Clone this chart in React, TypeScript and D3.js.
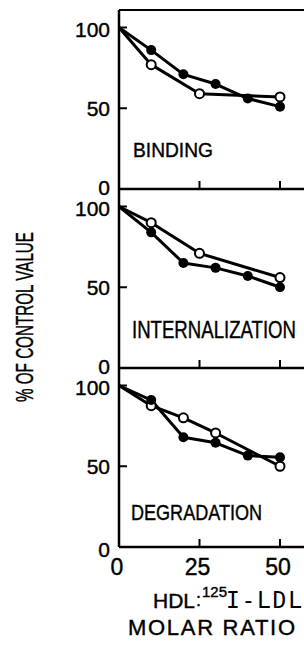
import { useEffect, useRef } from "react";
import * as d3 from "d3";

// panel labels, top to bottom
const panelNames = ["BINDING", "INTERNALIZATION", "DEGRADATION"];

// filled circles (same x for every panel)
const filledX = [0, 10, 20, 30, 40, 50];
const filledBinding = [100, 86, 71, 65, 56, 51];
const filledInternal = [100, 84, 65, 62, 57, 50];
const filledDegrad = [100, 91, 68, 64.5, 56.6, 55.5];

// open circles
const openXBinding = [0, 10, 25, 50];
const openBinding = [100, 77, 59, 57];
const openXInternal = [0, 10, 25, 50];
const openInternal = [100, 90, 71, 56];
const openXDegrad = [0, 10, 20, 30, 50];
const openDegrad = [100, 87.5, 80, 70.6, 50];

const xTicks = [0, 25, 50];
const yTicks = [0, 50, 100];

export default function App() {
  const svgRef = useRef<SVGSVGElement | null>(null);

  useEffect(() => {
    const width = 304;
    const height = 648;
    const svg = d3.select(svgRef.current);
    svg.selectAll("*").remove();
    svg.attr("width", width).attr("height", height);

    const font = "'Liberation Sans', Arial, sans-serif";
    const mono = "'DejaVu Sans Mono', monospace";
    const left = 119;
    const bottoms = [189, 368, 547];
    const panelH = 179;

    const x = d3.scaleLinear().domain([0, 50]).range([left, 280]);

    const panels = [
      { name: panelNames[0], fx: filledX, fy: filledBinding, ox: openXBinding, oy: openBinding, lab: [133, 157, 80, 21] },
      { name: panelNames[1], fx: filledX, fy: filledInternal, ox: openXInternal, oy: openInternal, lab: [132, 338, 164, 23] },
      { name: panelNames[2], fx: filledX, fy: filledDegrad, ox: openXDegrad, oy: openDegrad, lab: [131, 520, 131, 22] },
    ];

    const addText = (tx: number, ty: number, s: string, size: number, fam = font) =>
      svg
        .append("text")
        .attr("x", tx)
        .attr("y", ty)
        .attr("font-family", fam)
        .attr("font-size", size)
        .attr("stroke", "#000")
        .attr("stroke-width", 0.4)
        .text(s);

    // y axis line for all panels
    svg
      .append("line")
      .attr("x1", left)
      .attr("x2", left)
      .attr("y1", bottoms[0] - panelH)
      .attr("y2", bottoms[2])
      .attr("stroke", "#000")
      .attr("stroke-width", 2.5);

    panels.forEach((p, i) => {
      const b = bottoms[i];
      const y = d3.scaleLinear().domain([0, 100]).range([b, b - 161.5]);
      const g = svg.append("g");

      // top border of panel
      g.append("line")
        .attr("x1", left)
        .attr("x2", width)
        .attr("y1", b - panelH)
        .attr("y2", b - panelH)
        .attr("stroke", "#000")
        .attr("stroke-width", 2);
      // bottom line
      g.append("line")
        .attr("x1", left)
        .attr("x2", width)
        .attr("y1", b)
        .attr("y2", b)
        .attr("stroke", "#000")
        .attr("stroke-width", 2.5);

      // inward ticks
      xTicks.slice(1).forEach((t) => {
        g.append("line")
          .attr("x1", x(t))
          .attr("x2", x(t))
          .attr("y1", b)
          .attr("y2", b - 8)
          .attr("stroke", "#000")
          .attr("stroke-width", 2);
      });
      yTicks.forEach((t) => {
        g.append("line")
          .attr("x1", left)
          .attr("x2", left + 8)
          .attr("y1", y(t))
          .attr("y2", y(t))
          .attr("stroke", "#000")
          .attr("stroke-width", 2);
        addText(110, y(t) + (t === 0 ? (i === 2 ? 10 : 6) : t === 100 ? 9 : 8), String(t), 21).attr(
          "text-anchor",
          "end"
        );
      });

      const line = d3
        .line<[number, number]>()
        .x((d) => x(d[0]))
        .y((d) => y(d[1]));

      const filled: [number, number][] = p.fx.map((v, k) => [v, p.fy[k]]);
      const open: [number, number][] = p.ox.map((v, k) => [v, p.oy[k]]);

      [open, filled].forEach((data) => {
        g.append("path")
          .datum(data)
          .attr("fill", "none")
          .attr("stroke", "#000")
          .attr("stroke-width", 3)
          .attr("stroke-linejoin", "round")
          .attr("d", line);
      });

      g.selectAll(".open")
        .data(open.slice(1))
        .join("circle")
        .attr("cx", (d) => x(d[0]))
        .attr("cy", (d) => y(d[1]))
        .attr("r", 4.5)
        .attr("fill", "#fff")
        .attr("stroke", "#000")
        .attr("stroke-width", 2);

      g.selectAll(".filled")
        .data(filled.slice(1))
        .join("circle")
        .attr("cx", (d) => x(d[0]))
        .attr("cy", (d) => y(d[1]))
        .attr("r", 5)
        .attr("fill", "#000");

      addText(p.lab[0], p.lab[1], p.name, p.lab[3])
        .attr("textLength", p.lab[2])
        .attr("lengthAdjust", "spacingAndGlyphs");
    });

    // x tick labels
    xTicks.forEach((t) => {
      addText(x(t) - 2, 575, String(t), 23).attr("text-anchor", "middle");
    });

    // y axis title
    svg
      .append("text")
      .attr("transform", "translate(33,317) rotate(-90)")
      .attr("text-anchor", "middle")
      .attr("font-family", font)
      .attr("font-size", 24)
      .attr("stroke", "#000")
      .attr("stroke-width", 0.4)
      .attr("textLength", 170)
      .attr("lengthAdjust", "spacingAndGlyphs")
      .text("% OF CONTROL VALUE");

    // x axis title
    addText(153, 608, "HDL", 21);
    addText(196, 606, ":", 18);
    addText(202, 597, "125", 15);
    addText(226, 608, "I-LDL", 23, mono)
      .attr("stroke-width", 0)
      .attr("textLength", 76)
      .attr("lengthAdjust", "spacing");
    addText(128, 635, "MOLAR RATIO", 22).attr("textLength", 167).attr("lengthAdjust", "spacing");
  }, []);

  return (
    <svg
      ref={svgRef}
      style={{ position: "absolute", left: 0, top: 0 }}
      role="img"
      aria-label="Percent of control value chart"
    ></svg>
  );
}
